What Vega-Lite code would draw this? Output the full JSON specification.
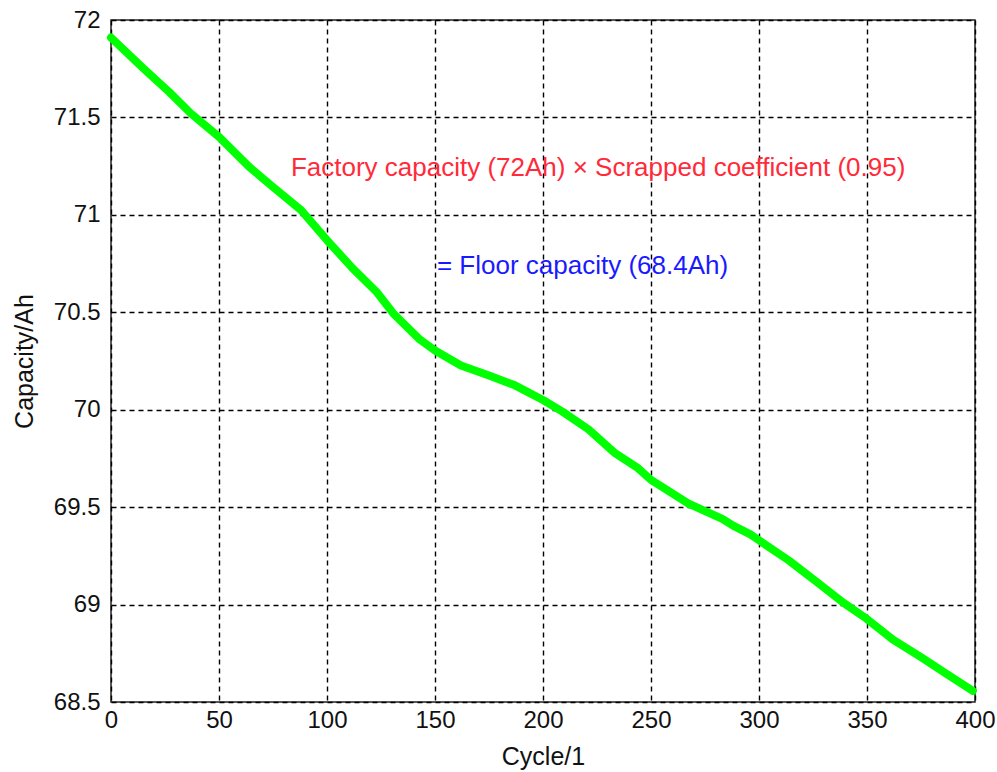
{
  "$schema": "https://vega.github.io/schema/vega-lite/v6.json",
  "autosize": {"type": "none"},
  "width": 864,
  "height": 682,
  "padding": {"left": 111, "top": 20, "right": 22, "bottom": 70},
  "background": "white",
  "config": {
    "font": "Liberation Sans",
    "view": {"stroke": "#222222", "strokeWidth": 1.5},
    "axis": {
      "grid": true,
      "gridColor": "#000000",
      "gridDash": [5, 4],
      "gridWidth": 1.4,
      "gridOpacity": 1,
      "domain": false,
      "ticks": false,
      "labelFlush": false,
      "labelFont": "Liberation Sans",
      "labelFontSize": 24,
      "labelColor": "#111111",
      "labelExpr": "datum.value + ''",
      "titleFont": "Liberation Sans",
      "titleFontSize": 25,
      "titleFontWeight": "normal",
      "titleColor": "#111111"
    }
  },
  "layer": [
    {
      "data": {
        "values": [
          {"cycle": 0, "capacity": 71.91},
          {"cycle": 15, "capacity": 71.752},
          {"cycle": 27, "capacity": 71.63},
          {"cycle": 37, "capacity": 71.52},
          {"cycle": 50, "capacity": 71.40},
          {"cycle": 64, "capacity": 71.246},
          {"cycle": 75, "capacity": 71.143},
          {"cycle": 88, "capacity": 71.024},
          {"cycle": 100, "capacity": 70.87},
          {"cycle": 112, "capacity": 70.724},
          {"cycle": 123, "capacity": 70.604},
          {"cycle": 131, "capacity": 70.49},
          {"cycle": 143, "capacity": 70.36},
          {"cycle": 150, "capacity": 70.304},
          {"cycle": 162, "capacity": 70.227},
          {"cycle": 175, "capacity": 70.176},
          {"cycle": 187, "capacity": 70.125},
          {"cycle": 200, "capacity": 70.05},
          {"cycle": 209, "capacity": 69.99},
          {"cycle": 221, "capacity": 69.90},
          {"cycle": 233, "capacity": 69.78},
          {"cycle": 244, "capacity": 69.70},
          {"cycle": 250, "capacity": 69.64},
          {"cycle": 267, "capacity": 69.52},
          {"cycle": 273, "capacity": 69.49},
          {"cycle": 283, "capacity": 69.44},
          {"cycle": 288, "capacity": 69.405},
          {"cycle": 296, "capacity": 69.36},
          {"cycle": 300, "capacity": 69.33},
          {"cycle": 314, "capacity": 69.225},
          {"cycle": 327, "capacity": 69.114},
          {"cycle": 339, "capacity": 69.01},
          {"cycle": 349, "capacity": 68.934},
          {"cycle": 362, "capacity": 68.82},
          {"cycle": 375, "capacity": 68.73},
          {"cycle": 387, "capacity": 68.643},
          {"cycle": 399, "capacity": 68.557}
        ]
      },
      "mark": {"type": "line", "color": "#00ff00", "strokeWidth": 8, "strokeCap": "round", "strokeJoin": "round"},
      "encoding": {
        "x": {
          "field": "cycle", "type": "quantitative",
          "scale": {"domain": [0, 400], "nice": false, "zero": false},
          "axis": {"values": [0, 50, 100, 150, 200, 250, 300, 350, 400], "title": "Cycle/1", "labelPadding": 6, "titlePadding": 12}
        },
        "y": {
          "field": "capacity", "type": "quantitative",
          "scale": {"domain": [68.5, 72], "nice": false, "zero": false},
          "axis": {"values": [68.5, 69, 69.5, 70, 70.5, 71, 71.5, 72], "title": "Capacity/Ah", "labelPadding": 11, "titlePadding": 16}
        }
      }
    },
    {
      "data": {"values": [{"cycle": 83.3, "capacity": 71.24, "label": "Factory capacity (72Ah) × Scrapped coefficient (0.95)"}]},
      "mark": {"type": "text", "align": "left", "baseline": "middle", "font": "Liberation Sans", "fontSize": 26, "color": "#ff2a3a"},
      "encoding": {
        "x": {"field": "cycle", "type": "quantitative"},
        "y": {"field": "capacity", "type": "quantitative"},
        "text": {"field": "label"}
      }
    },
    {
      "data": {"values": [{"cycle": 150.9, "capacity": 70.74, "label": "= Floor capacity (68.4Ah)"}]},
      "mark": {"type": "text", "align": "left", "baseline": "middle", "font": "Liberation Sans", "fontSize": 26, "color": "#1a1aff"},
      "encoding": {
        "x": {"field": "cycle", "type": "quantitative"},
        "y": {"field": "capacity", "type": "quantitative"},
        "text": {"field": "label"}
      }
    }
  ]
}
